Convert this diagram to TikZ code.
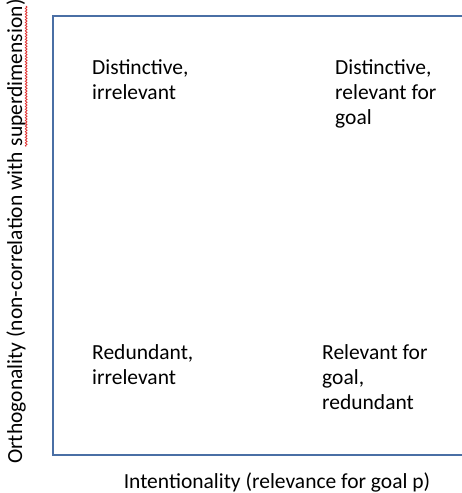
\documentclass[tikz,border=0pt]{standalone}
\usepackage{fontspec}
\setmainfont{Carlito}
\usetikzlibrary{decorations.pathmorphing}
\definecolor{boxblue}{HTML}{4A6FA5}
\definecolor{spellred}{HTML}{E03030}
\begin{document}
\begin{tikzpicture}[x=1pt,y=-1pt,
  quad/.style={anchor=base west,align=left,font=\fontsize{21.5}{25}\selectfont,inner sep=0pt},
  axislabel/.style={font=\fontsize{21.5}{25}\selectfont,inner sep=0pt},
  wavy/.style={spellred,line width=0.85pt,decorate,decoration={snake,amplitude=0.8pt,segment length=2.8pt}}]
\useasboundingbox (0,0) rectangle (462,493);
\clip (0,0) rectangle (462,493);
\fill[white] (0,0) rectangle (462,493);
\coordinate (tr) at (470,16);
\coordinate (tl) at (53,16);
\coordinate (bl) at (53,455);
\coordinate (br) at (470,455);
\draw[boxblue,line width=1.6pt] (tr) -- (tl) -- (bl) -- (br);
% last-line baselines (multi-line nodes anchor on the last line)
\node[quad] (q1) at (92,99) {Distinctive,\\irrelevant};
\node[quad] (q2) at (335,124) {Distinctive,\\relevant for\\goal};
\node[quad] (q3) at (92,384) {Redundant,\\irrelevant};
\node[quad] (q4) at (322,409) {Relevant for\\goal,\\redundant};
\node[axislabel,anchor=base] (xl) at (277,488) {Intentionality (relevance for goal p)};
\node[axislabel,rotate=90,anchor=base west] (ya) at (22,464) {Orthogonality (non-correlation with\kern0.23em};
\node[axislabel,rotate=90,anchor=base west] (yb) at (ya.base east) {superdimension};
\node[axislabel,rotate=90,anchor=base west] (yc) at (yb.base east) {)};
\draw[wavy] ([xshift=0.5pt]yb.south west) -- ([xshift=0.5pt]yb.south east);
\end{tikzpicture}
\end{document}
